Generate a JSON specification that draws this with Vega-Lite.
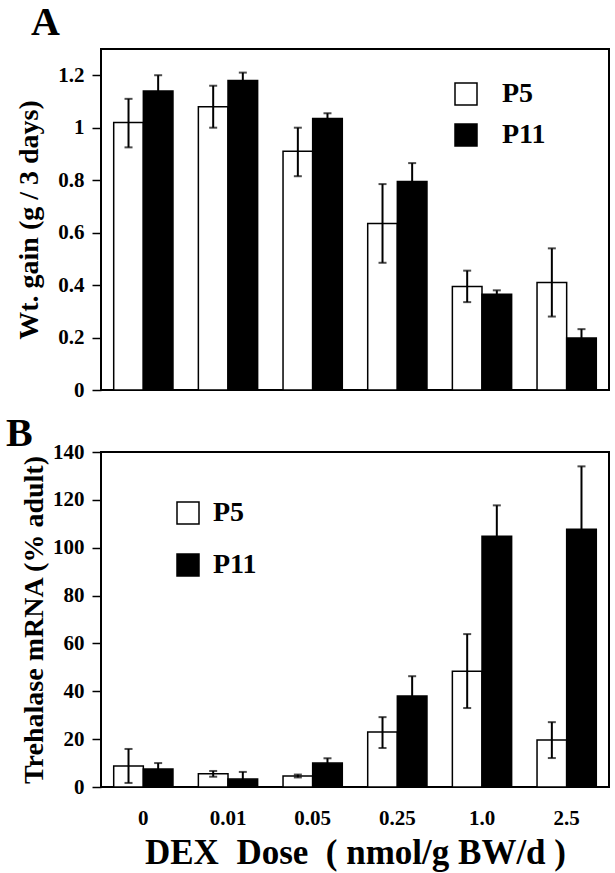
{
  "$schema": "https://vega.github.io/schema/vega-lite/v6.json",
  "background": "white",
  "padding": {"left": 5, "top": 2, "right": 5, "bottom": 5},
  "config": {
    "font": "Liberation Serif",
    "view": {"stroke": "black", "strokeWidth": 2},
    "axis": {
      "labelFont": "Liberation Serif", "labelFontWeight": "bold", "labelFontSize": 21, "labelColor": "black",
      "titleFont": "Liberation Serif", "titleFontWeight": "bold", "titleColor": "black",
      "grid": false, "domain": false, "tickColor": "black", "tickWidth": 1.5, "tickSize": 9
    },
    "legend": {
      "orient": "none", "direction": "vertical", "title": null, "symbolType": "square", "symbolSize": 484,
      "labelFont": "Liberation Serif", "labelFontWeight": "bold", "labelFontSize": 28, "labelColor": "black",
      "symbolStrokeColor": "black", "symbolStrokeWidth": 1.5, "padding": 0
    },
    "title": {"font": "Liberation Serif", "fontWeight": "bold", "fontSize": 40, "color": "black", "anchor": "start", "frame": "group"}
  },
  "datasets": {
    "a": [
      {"dose": "0", "age": "P5", "v": 1.02, "lo": 0.925, "hi": 1.11},
      {"dose": "0", "age": "P11", "v": 1.14, "lo": 1.08, "hi": 1.2},
      {"dose": "0.01", "age": "P5", "v": 1.08, "lo": 1.0, "hi": 1.16},
      {"dose": "0.01", "age": "P11", "v": 1.18, "lo": 1.15, "hi": 1.21},
      {"dose": "0.05", "age": "P5", "v": 0.91, "lo": 0.815, "hi": 1.0},
      {"dose": "0.05", "age": "P11", "v": 1.035, "lo": 1.015, "hi": 1.055},
      {"dose": "0.25", "age": "P5", "v": 0.635, "lo": 0.485, "hi": 0.785},
      {"dose": "0.25", "age": "P11", "v": 0.795, "lo": 0.725, "hi": 0.865},
      {"dose": "1.0", "age": "P5", "v": 0.395, "lo": 0.335, "hi": 0.455},
      {"dose": "1.0", "age": "P11", "v": 0.365, "lo": 0.35, "hi": 0.38},
      {"dose": "2.5", "age": "P5", "v": 0.41, "lo": 0.28, "hi": 0.54},
      {"dose": "2.5", "age": "P11", "v": 0.198, "lo": 0.165, "hi": 0.232}
    ],
    "b": [
      {"dose": "0", "age": "P5", "v": 8.8, "lo": 1.7, "hi": 15.9},
      {"dose": "0", "age": "P11", "v": 7.5, "lo": 5, "hi": 10},
      {"dose": "0.01", "age": "P5", "v": 5.5, "lo": 4.3, "hi": 6.7},
      {"dose": "0.01", "age": "P11", "v": 3.3, "lo": 0.3, "hi": 6.3},
      {"dose": "0.05", "age": "P5", "v": 4.6, "lo": 4.0, "hi": 5.2},
      {"dose": "0.05", "age": "P11", "v": 10, "lo": 8, "hi": 12},
      {"dose": "0.25", "age": "P5", "v": 23, "lo": 16.3, "hi": 29.2},
      {"dose": "0.25", "age": "P11", "v": 38, "lo": 30, "hi": 46.3},
      {"dose": "1.0", "age": "P5", "v": 48.4, "lo": 33, "hi": 63.9},
      {"dose": "1.0", "age": "P11", "v": 104.8, "lo": 92, "hi": 117.7},
      {"dose": "2.5", "age": "P5", "v": 19.6, "lo": 12.1, "hi": 27.1},
      {"dose": "2.5", "age": "P11", "v": 107.7, "lo": 81, "hi": 134}
    ]
  },
  "spacing": 12,
  "resolve": {"scale": {"fill": "independent"}, "legend": {"fill": "independent"}},
  "vconcat": [
    {
      "title": {"text": "A", "dx": -70, "offset": -26, "baseline": "alphabetic"},
      "width": 508,
      "height": 341,
      "data": {"name": "a"},
      "encoding": {
        "x": {"field": "dose", "type": "nominal", "sort": ["0", "0.01", "0.05", "0.25", "1.0", "2.5"], "axis": null,
              "scale": {"paddingInner": 0.3, "paddingOuter": 0.15}},
        "xOffset": {"field": "age", "type": "nominal", "sort": ["P5", "P11"], "scale": {"paddingInner": 0, "paddingOuter": 0}}
      },
      "layer": [
        {
          "mark": {"type": "bar", "stroke": "black", "strokeWidth": 1.5},
          "encoding": {
            "y": {"field": "v", "type": "quantitative", "scale": {"domain": [0, 1.3]},
                  "axis": {"title": "Wt. gain (g / 3 days)", "titleFontSize": 28, "titlePadding": 14, "labelPadding": 8,
                           "values": [0, 0.2, 0.4, 0.6, 0.8, 1, 1.2], "format": "~g"}},
            "fill": {"field": "age", "type": "nominal", "scale": {"domain": ["P5", "P11"], "range": ["white", "black"]},
                     "legend": {"legendX": 351, "legendY": 31, "rowPadding": 13, "labelOffset": 22}}
          }
        },
        {
          "mark": {"type": "rule", "color": "black", "strokeWidth": 2},
          "encoding": {"y": {"field": "lo", "type": "quantitative"}, "y2": {"field": "hi"}}
        },
        {
          "mark": {"type": "tick", "color": "black", "thickness": 2, "size": 8},
          "encoding": {"y": {"field": "hi", "type": "quantitative"}}
        },
        {
          "mark": {"type": "tick", "color": "black", "thickness": 2, "size": 8},
          "encoding": {"y": {"field": "lo", "type": "quantitative"}}
        }
      ]
    },
    {
      "title": {"text": "B", "dx": -95, "offset": -45, "baseline": "alphabetic"},
      "width": 508,
      "height": 335,
      "data": {"name": "b"},
      "encoding": {
        "x": {"field": "dose", "type": "nominal", "sort": ["0", "0.01", "0.05", "0.25", "1.0", "2.5"],
              "scale": {"paddingInner": 0.3, "paddingOuter": 0.15},
              "axis": {"title": "DEX\u00a0 Dose\u00a0 (\u00a0nmol/g BW/d\u00a0)", "labelAngle": 0, "ticks": false, "tickSize": 0,
                       "labelPadding": 20, "titleFontSize": 35, "titlePadding": 7}},
        "xOffset": {"field": "age", "type": "nominal", "sort": ["P5", "P11"], "scale": {"paddingInner": 0, "paddingOuter": 0}}
      },
      "layer": [
        {
          "mark": {"type": "bar", "stroke": "black", "strokeWidth": 1.5},
          "encoding": {
            "y": {"field": "v", "type": "quantitative", "scale": {"domain": [0, 140]},
                  "axis": {"title": "Trehalase mRNA (% adult)", "titleFontSize": 28, "titlePadding": 4, "labelPadding": 8,
                           "values": [0, 20, 40, 60, 80, 100, 120, 140]}},
            "fill": {"field": "age", "type": "nominal", "scale": {"domain": ["P5", "P11"], "range": ["white", "black"]},
                     "legend": {"legendX": 73, "legendY": 47, "rowPadding": 24, "labelOffset": 11}}
          }
        },
        {
          "mark": {"type": "rule", "color": "black", "strokeWidth": 2},
          "encoding": {"y": {"field": "lo", "type": "quantitative"}, "y2": {"field": "hi"}}
        },
        {
          "mark": {"type": "tick", "color": "black", "thickness": 2, "size": 8},
          "encoding": {"y": {"field": "hi", "type": "quantitative"}}
        },
        {
          "mark": {"type": "tick", "color": "black", "thickness": 2, "size": 8},
          "encoding": {"y": {"field": "lo", "type": "quantitative"}}
        }
      ]
    }
  ]
}
